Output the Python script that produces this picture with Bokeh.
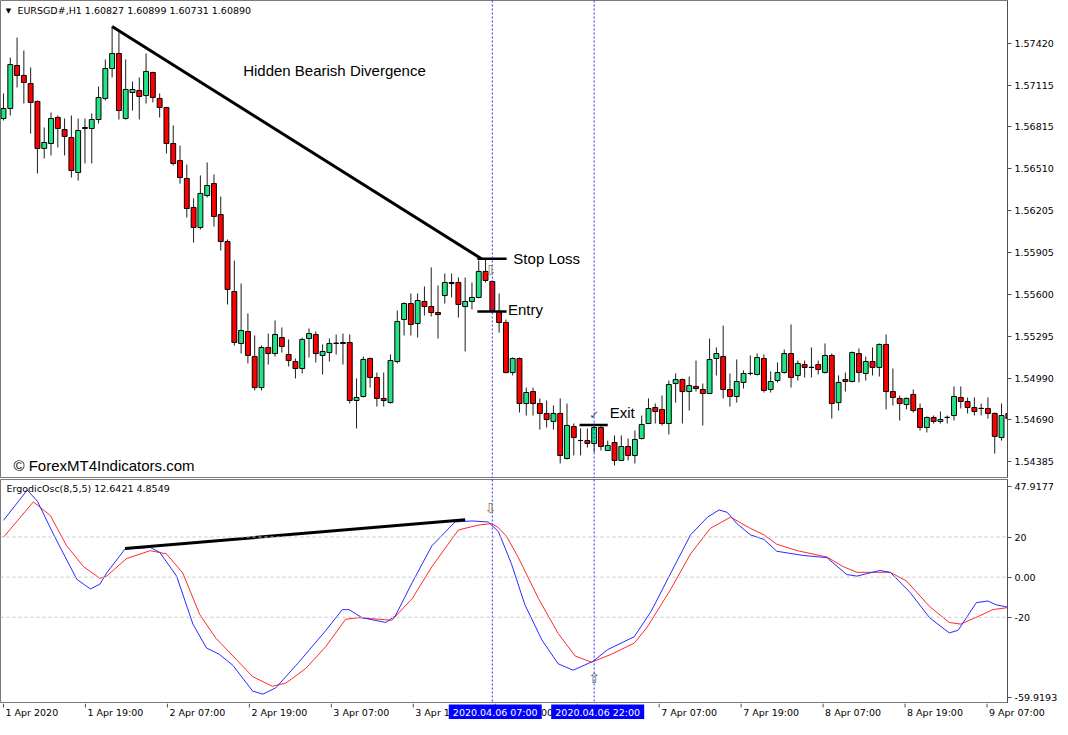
from bokeh.plotting import figure
from bokeh.layouts import column
from bokeh.models import Range1d, FixedTicker, PrintfTickFormatter, Span, Label, ColumnDataSource
from bokeh.core.properties import value
from bokeh.embed import file_html
from bokeh.resources import INLINE

# ---------------- data (EURSGD#, H1) ----------------
opens = [1.56875, 1.56948, 1.57260, 1.57188, 1.57129, 1.56999, 1.56658, 1.56694, 1.56883, 1.56795,
         1.56737, 1.56483, 1.56803, 1.56803, 1.56868, 1.57021, 1.57238, 1.57347, 1.56875, 1.57064,
         1.57079, 1.57042, 1.57209, 1.57021, 1.56955, 1.56694, 1.56570, 1.56440, 1.56229, 1.56084,
         1.56316, 1.56403, 1.56178, 1.55982, 1.55619, 1.55242, 1.55329, 1.55147, 1.54922, 1.55213,
         1.55169, 1.55285, 1.55162, 1.55111, 1.55060, 1.55278, 1.55307, 1.55155, 1.55176, 1.55242,
         1.55242, 1.55249, 1.54828, 1.54857, 1.55133, 1.54995, 1.54843, 1.54813, 1.55111, 1.55416,
         1.55532, 1.55387, 1.55547, 1.55510, 1.55467, 1.55590, 1.55685, 1.55685, 1.55510, 1.55547,
         1.55576, 1.55765, 1.55692, 1.55467, 1.55394, 1.55031, 1.55133, 1.54806, 1.54893, 1.54806,
         1.54734, 1.54676, 1.54734, 1.54407, 1.54639, 1.54537, 1.54537, 1.54516, 1.54632, 1.54465,
         1.54523, 1.54393, 1.54494, 1.54429, 1.54552, 1.54661, 1.54777, 1.54763, 1.54661, 1.54951,
         1.54980, 1.54893, 1.54930, 1.54908, 1.54879, 1.55133, 1.55147, 1.54908, 1.54857, 1.54959,
         1.55024, 1.55017, 1.55133, 1.54908, 1.54973, 1.55031, 1.55169, 1.55010, 1.55089, 1.55068,
         1.55089, 1.55031, 1.55155, 1.54813, 1.54980, 1.54966, 1.55169, 1.55024, 1.55111, 1.55068,
         1.55235, 1.54893, 1.54843, 1.54799, 1.54872, 1.54770, 1.54632, 1.54705, 1.54676, 1.54705,
         1.54719, 1.54850, 1.54821, 1.54777, 1.54770, 1.54770, 1.54734, 1.54559, 1.54734]
highs = [1.57057, 1.57318, 1.57463, 1.57369, 1.57246, 1.57006, 1.56810, 1.56919, 1.56897, 1.56875,
         1.56897, 1.56875, 1.56875, 1.56912, 1.57108, 1.57304, 1.57543, 1.57500, 1.57304, 1.57144,
         1.57173, 1.57347, 1.57215, 1.57057, 1.56960, 1.56825, 1.56679, 1.56541, 1.56295, 1.56462,
         1.56556, 1.56469, 1.56309, 1.55997, 1.55844, 1.55677, 1.55460, 1.55300, 1.55227, 1.55314,
         1.55409, 1.55358, 1.55271, 1.55133, 1.55285, 1.55351, 1.55329, 1.55235, 1.55278, 1.55307,
         1.55314, 1.55307, 1.54988, 1.55147, 1.55140, 1.55031, 1.55031, 1.55162, 1.55481, 1.55540,
         1.55605, 1.55605, 1.55656, 1.55794, 1.55663, 1.55750, 1.55750, 1.55721, 1.55721, 1.55685,
         1.55844, 1.55852, 1.55699, 1.55605, 1.55416, 1.55140, 1.55140, 1.54922, 1.54922, 1.54843,
         1.54828, 1.54792, 1.54843, 1.54806, 1.54661, 1.54625, 1.54625, 1.54661, 1.54647, 1.54537,
         1.54574, 1.54574, 1.54552, 1.54610, 1.54719, 1.54843, 1.54806, 1.54864, 1.54973, 1.55024,
         1.54988, 1.55002, 1.55118, 1.54951, 1.55278, 1.55213, 1.55372, 1.55024, 1.55126, 1.55046,
         1.55155, 1.55169, 1.55162, 1.55039, 1.55104, 1.55198, 1.55380, 1.55118, 1.55118, 1.55213,
         1.55118, 1.55242, 1.55169, 1.55010, 1.55031, 1.55184, 1.55206, 1.55147, 1.55213, 1.55242,
         1.55307, 1.55060, 1.54864, 1.54850, 1.54908, 1.54806, 1.54712, 1.54719, 1.54748, 1.54719,
         1.54930, 1.54930, 1.54850, 1.54850, 1.54806, 1.54850, 1.54741, 1.54806, 1.54777]
lows = [1.56861, 1.56897, 1.57100, 1.56984, 1.56766, 1.56476, 1.56585, 1.56607, 1.56665, 1.56607,
        1.56447, 1.56425, 1.56549, 1.56549, 1.56839, 1.57006, 1.57173, 1.56868, 1.56868, 1.56933,
        1.56868, 1.56984, 1.56992, 1.56883, 1.56621, 1.56534, 1.56403, 1.56157, 1.55975, 1.56069,
        1.56302, 1.56091, 1.55917, 1.55525, 1.55227, 1.55169, 1.55097, 1.54901, 1.54901, 1.55089,
        1.55147, 1.55176, 1.55075, 1.54988, 1.55024, 1.55140, 1.55104, 1.55017, 1.55111, 1.55162,
        1.55089, 1.54806, 1.54625, 1.54850, 1.54922, 1.54784, 1.54784, 1.54806, 1.55097, 1.55300,
        1.55300, 1.55285, 1.55445, 1.55438, 1.55278, 1.55532, 1.55576, 1.55430, 1.55184, 1.55489,
        1.55570, 1.55685, 1.55467, 1.55321, 1.55024, 1.55010, 1.54741, 1.54719, 1.54719, 1.54617,
        1.54632, 1.54617, 1.54371, 1.54400, 1.54429, 1.54429, 1.54487, 1.54451, 1.54465, 1.54465,
        1.54356, 1.54393, 1.54393, 1.54371, 1.54545, 1.54661, 1.54661, 1.54647, 1.54581, 1.54813,
        1.54661, 1.54755, 1.54893, 1.54647, 1.54879, 1.55010, 1.54843, 1.54784, 1.54813, 1.54915,
        1.55010, 1.55010, 1.54886, 1.54886, 1.54959, 1.55024, 1.54922, 1.54973, 1.54995, 1.54995,
        1.55017, 1.55024, 1.54697, 1.54755, 1.54893, 1.54959, 1.54959, 1.54973, 1.55010, 1.55002,
        1.54763, 1.54792, 1.54683, 1.54763, 1.54741, 1.54610, 1.54596, 1.54661, 1.54661, 1.54661,
        1.54683, 1.54770, 1.54734, 1.54719, 1.54719, 1.54697, 1.54443, 1.54537, 1.54639]
closes = [1.56948, 1.57267, 1.57188, 1.57137, 1.56992, 1.56658, 1.56701, 1.56875, 1.56803, 1.56745,
          1.56498, 1.56788, 1.56810, 1.56868, 1.57028, 1.57238, 1.57347, 1.56933, 1.57086, 1.57086,
          1.57035, 1.57217, 1.57028, 1.56955, 1.56694, 1.56549, 1.56447, 1.56222, 1.56084, 1.56331,
          1.56389, 1.56164, 1.55982, 1.55634, 1.55249, 1.55336, 1.55155, 1.54922, 1.55213, 1.55169,
          1.55307, 1.55220, 1.55118, 1.55060, 1.55271, 1.55314, 1.55169, 1.55184, 1.55242, 1.55245,
          1.55249, 1.54828, 1.54850, 1.55126, 1.54995, 1.54843, 1.54828, 1.55118, 1.55401, 1.55532,
          1.55380, 1.55554, 1.55510, 1.55467, 1.55452, 1.55685, 1.55677, 1.55525, 1.55547, 1.55576,
          1.55765, 1.55699, 1.55481, 1.55394, 1.55031, 1.55133, 1.54806, 1.54886, 1.54806, 1.54734,
          1.54690, 1.54734, 1.54429, 1.54647, 1.54559, 1.54538, 1.54516, 1.54632, 1.54494, 1.54501,
          1.54393, 1.54494, 1.54429, 1.54545, 1.54654, 1.54770, 1.54748, 1.54661, 1.54944, 1.54980,
          1.54893, 1.54937, 1.54915, 1.54879, 1.55126, 1.55169, 1.54908, 1.54857, 1.54966, 1.55024,
          1.55025, 1.55140, 1.54901, 1.54966, 1.55031, 1.55169, 1.54995, 1.55097, 1.55068, 1.55069,
          1.55053, 1.55155, 1.54806, 1.54959, 1.54966, 1.55176, 1.55031, 1.55111, 1.55068, 1.55235,
          1.54893, 1.54850, 1.54806, 1.54843, 1.54755, 1.54632, 1.54705, 1.54676, 1.54690, 1.54706,
          1.54857, 1.54821, 1.54777, 1.54748, 1.54771, 1.54734, 1.54567, 1.54719, 1.54697]

price_ticks = [1.57420, 1.57115, 1.56815, 1.56510, 1.56205, 1.55905, 1.55600, 1.55295, 1.54990, 1.54690, 1.54385]

time_tick_bars = [0, 12, 24, 36, 48, 60, 72, 84, 96, 108, 120, 132, 144]
time_tick_labels = ["1 Apr 2020", "1 Apr 19:00", "2 Apr 07:00", "2 Apr 19:00", "3 Apr 07:00", "3 Apr 19:00",
                    "6 Apr 07:00", "6 Apr 19:00", "7 Apr 07:00", "7 Apr 19:00", "8 Apr 07:00", "8 Apr 19:00",
                    "9 Apr 07:00"]
marker_bars = [72, 87]
marker_labels = ["2020.04.06 07:00", "2020.04.06 22:00"]

# Ergodic oscillator (main = blue, signal = red), read at bar positions
osc_blue_x = [0, 3.5, 5, 7.4, 10.8, 12.8, 14.2, 15.2, 17.9, 21.6, 23, 25.5, 27.9, 29.9, 31.8, 33.8, 36.7,
              38.2, 40.1, 43.5, 47.5, 49.9, 50.9, 52.8, 56.3, 57.7, 60.2, 63.1, 66.5, 69, 71.4, 72.9,
              74.8, 76.8, 79.3, 81.7, 83.9, 86.8, 89, 92.9, 95.4, 98.3, 101.2, 103.7, 105.4, 106.6,
              108, 110, 112, 113.9, 117.8, 121.3, 124.2, 125.7, 127.1, 129.1, 130.6, 133.5, 136.4,
              139.3, 140.6, 143.3, 145, 146.2, 148.1]
osc_blue_y = [28.3, 43.4, 37.8, 21.1, -1.1, -5.9, -3.5, 2.1, 14.0, 14.8, 12.4, 0.5, -23.4, -35.3, -38.5,
              -44.0, -56.8, -58.3, -55.2, -42.4, -26.5, -16.2, -16.2, -20.2, -22.6, -19.4, -2.7, 15.6,
              27.5, 28.0, 27.5, 22.7, 6.8, -13.8, -31.3, -43.2, -46.4, -42.0, -36.1, -29.7, -17.0,
              2.1, 21.1, 29.9, 33.5, 32.3, 26.7, 21.1, 18.8, 12.9, 10.8, 9.7, 1.3, 0.5, 1.7, 3.3,
              2.4, -7.5, -20.2, -27.8, -26.5, -12.7, -11.9, -13.8, -15.1]
osc_red_x = [0, 4.4, 6.9, 9.3, 11.8, 14.2, 15.2, 18.1, 21.6, 24, 26.4, 28.9, 31.3, 33.8, 36.7, 39.6,
             41.6, 44.5, 47.5, 50.4, 52.3, 55.3, 57.2, 60.2, 63.1, 67, 69.9, 71.9, 72.9, 74.1, 75.8,
             78.8, 81.7, 84.2, 86.6, 89.5, 92.9, 94.8, 98.3, 101.2, 104.1, 107.1, 110, 112, 113.9,
             116.9, 121.3, 123.7, 125.7, 128.6, 130.6, 133, 136.4, 139.3, 141, 143.7, 145.7, 148.1]
osc_red_y = [19.9, 37.5, 30.7, 15.6, 5.2, -0.6, 0.5, 9.2, 13.2, 11.6, 2.1, -18.6, -30.5, -39.3, -49.6,
             -54.4, -52.8, -45.6, -34.5, -21.0, -20.2, -21.0, -21.5, -10.7, 5.2, 23.5, 25.9, 26.7,
             24.6, 20.3, 10.0, -10.7, -28.1, -39.3, -42.4, -38.5, -32.9, -25.0, -5.9, 11.6, 24.3,
             29.9, 24.3, 21.1, 16.4, 13.2, 10.0, 5.2, 2.4, 2.4, 2.4, -1.9, -14.6, -22.6, -23.4,
             -19.4, -16.2, -15.1]
osc_levels = [20, 0, -20]
osc_axis_ticks = [45.2, 20, 0, -20, -60]
osc_axis_labels = ["47.9177", "20", "0.00", "-20", "-59.9193"]

# drawn objects
price_div_x = [16.0, 70.4]
price_div_y = [1.57543, 1.55857]
osc_div_x = [17.9, 68.0]
osc_div_y = [14.3, 28.6]
trade_names = ["Stop Loss", "Entry", "Exit"]
trade_prices = [1.55857, 1.55474, 1.54651]
trade_from = [69.8, 69.8, 84.85]
trade_to = [74.1, 74.1, 89.0]

# ---------------- figures ----------------
GREEN = "#22E487"
RED = "#FF0000"
AXF = "DejaVu Sans"
TXF = "Liberation Sans"
n = len(opens)
src = ColumnDataSource(dict(
    x=list(range(n)), h=highs, l=lows,
    top=[max(o, c) for o, c in zip(opens, closes)],
    bottom=[min(o, c) for o, c in zip(opens, closes)],
    color=[GREEN if c >= o else RED for o, c in zip(opens, closes)],
))

W = 1060
RB = 47
X0, X1 = -0.44, 147.88
xr = Range1d(X0, X1)

p1 = figure(width=W, height=478, x_range=xr, y_range=Range1d(1.54269, 1.57732),
            output_backend="svg", toolbar_location=None, x_axis_location=None,
            y_axis_location="right", min_border_left=0, min_border_right=RB,
            min_border_top=0, min_border_bottom=1)
p2 = figure(width=W, height=225, x_range=xr, y_range=Range1d(-62.98, 48.66),
            output_backend="svg", toolbar_location=None, x_axis_location=None,
            y_axis_location="right", min_border_left=0, min_border_right=RB,
            min_border_top=1, min_border_bottom=0)
# strip under the oscillator for the time scale (same bar-to-pixel mapping, full width)
p3 = figure(width=W, height=16, x_range=Range1d(X0, X0 + (X1 - X0) * W / (W - RB)),
            y_range=Range1d(0, 16), output_backend="svg", toolbar_location=None,
            x_axis_location=None, y_axis_location=None, min_border_left=0,
            min_border_right=0, min_border_top=0, min_border_bottom=0)
p3.frame_align = False
p3.grid.visible = False
p3.outline_line_color = None

for p in (p1, p2):
    p.grid.visible = False
    p.outline_line_color = "#7a7a7a"
    p.background_fill_color = "white"
    p.border_fill_color = "white"
    ax = p.yaxis[0]
    ax.major_label_text_font = AXF
    ax.major_label_text_font_size = "9.5px"
    ax.major_label_text_color = "black"
    ax.major_tick_out = 4
    ax.major_tick_in = 0
    ax.minor_tick_out = 0
    ax.minor_tick_in = 0
    ax.major_label_standoff = 3
    ax.axis_line_color = "#505050"
    ax.major_tick_line_color = "#505050"

p1.yaxis[0].ticker = FixedTicker(ticks=price_ticks)
p1.yaxis[0].formatter = PrintfTickFormatter(format="%.5f")
p2.yaxis[0].ticker = FixedTicker(ticks=osc_axis_ticks)
p2.yaxis[0].major_label_overrides = {t: s for t, s in zip(osc_axis_ticks, osc_axis_labels)}

# candles
p1.segment(x0="x", y0="h", x1="x", y1="l", source=src, line_color="#1e1e1e", line_width=1)
p1.vbar(x="x", width=0.72, top="top", bottom="bottom", source=src,
        fill_color="color", line_color="black", line_width=1)

# divergence line on price and trade levels
p1.line(price_div_x, price_div_y, line_color="black", line_width=3)
p1.segment(x0=trade_from, y0=trade_prices, x1=trade_to, y1=trade_prices,
           line_color="black", line_width=2.5)

# vertical markers
for p in (p1, p2):
    for b in marker_bars:
        p.add_layout(Span(location=b, dimension="height", line_color="#2a2aff",
                          line_dash="2 2", line_width=1))

# oscillator
for lv in osc_levels:
    p2.add_layout(Span(location=lv, dimension="width", line_color="#c4c4c4",
                       line_dash="3 3", line_width=1))
p2.line(osc_red_x, osc_red_y, line_color="#ff2a2a", line_width=1)
p2.line(osc_blue_x, osc_blue_y, line_color="#2a2aff", line_width=1)
p2.line(osc_div_x, osc_div_y, line_color="black", line_width=3)

# ---------------- texts ----------------
def lab(p, x, y, text, size="15px", font=TXF, align="left", color="black", **kw):
    p.add_layout(Label(x=x, y=y, text=text, text_font=font, text_font_size=size,
                       text_align=align, text_baseline="middle", text_color=color, **kw))

lab(p1, 0.73, 1.57659, "\u25bc", size="7px", font=AXF, align="center")
lab(p1, 2.05, 1.57659, "EURSGD#,H1  1.60827 1.60899 1.60731 1.60890", size="9.5px", font=AXF)
lab(p1, 35.3, 1.57224, "Hidden Bearish Divergence")
lab(p1, 75.1, trade_prices[0], trade_names[0])
lab(p1, 74.3, 1.55489, trade_names[1])
lab(p1, 89.3, 1.54741, trade_names[2])
lab(p1, 87, 1.54726, "\u2713", size="12px", font=AXF, align="center", color="#4a5560")
lab(p1, 71.7, 1.55772, "\u21e9", size="14px", font=AXF, align="center", color="#8a7448")
lab(p1, 1.47, 1.54356, "\u00a9 ForexMT4Indicators.com")

lab(p2, 0.44, 44.4, "ErgodicOsc(8,5,5) 12.6421 4.8549", size="9.5px", font=AXF)
lab(p2, 71.7, 34.4, "\u21e9", size="14px", font=AXF, align="center", color="#8a7448")
lab(p2, 87, -50.1, "\u21e7", size="14px", font=AXF, align="center", color="#5d7080")

# time scale
p3.segment(x0=time_tick_bars, y0=[16] * len(time_tick_bars), x1=time_tick_bars,
           y1=[12] * len(time_tick_bars), line_color="#505050", line_width=1)
p3.text(x=time_tick_bars, y=[7.5] * len(time_tick_bars), text=time_tick_labels,
        text_font=value(AXF), text_font_size="9.5px", text_align="left",
        text_baseline="middle", text_color="black", x_offset=2)
p3.rect(x=marker_bars, y=[7.5] * len(marker_bars), width=93, height=15,
        width_units="screen", height_units="screen", fill_color="#0000ff", line_color=None)
p3.text(x=marker_bars, y=[7.5] * len(marker_bars), text=marker_labels,
        text_font=value(AXF), text_font_size="9.5px", text_align="center",
        text_baseline="middle", text_color="white")

layout = column(p1, p2, p3, spacing=0)
open("out.html", "w").write(file_html(layout, INLINE))
